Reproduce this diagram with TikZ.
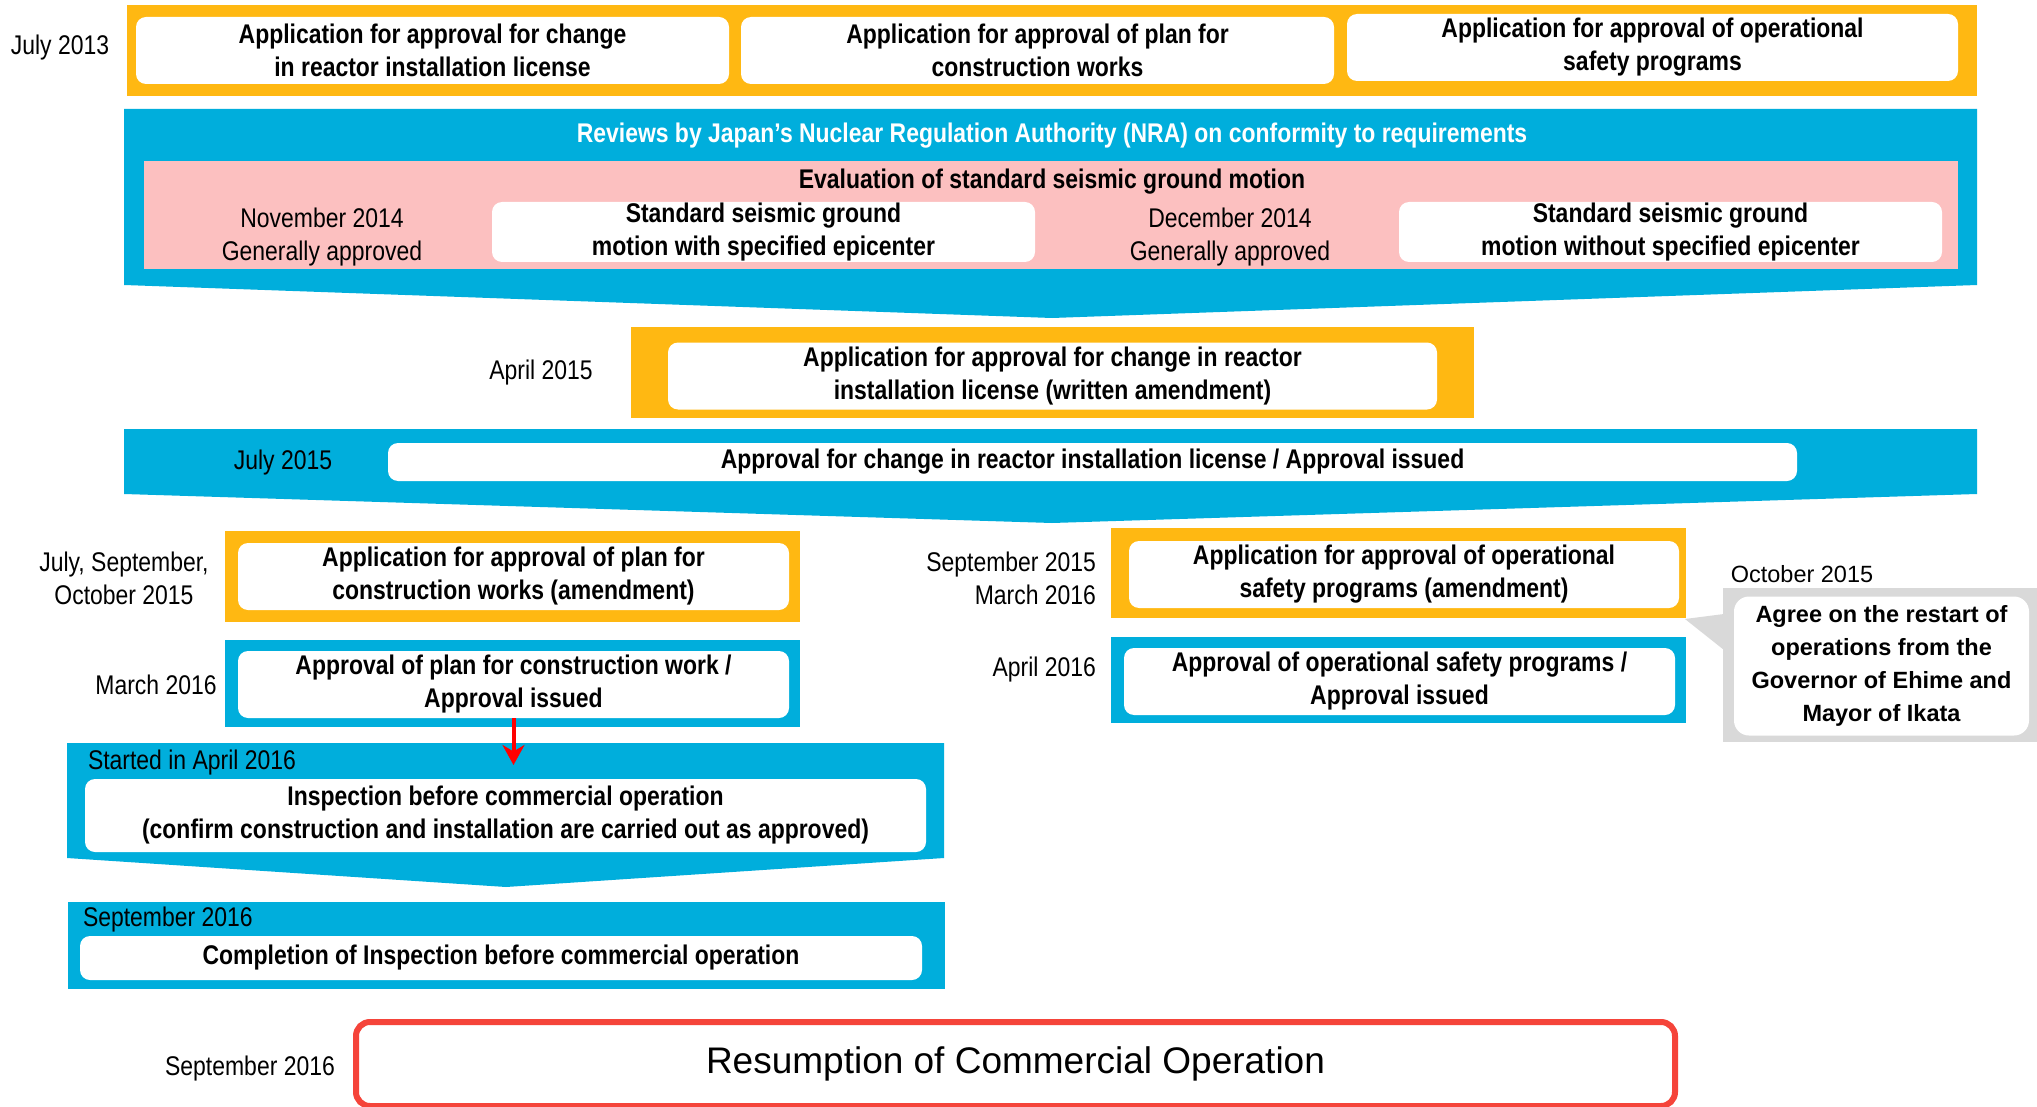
\documentclass[tikz,border=0pt]{standalone}
\usepackage{fontspec}
\setmainfont{Liberation Sans}
\newfontfamily\nf{Liberation Sans}[FakeStretch=0.85]
\usetikzlibrary{arrows.meta}
\definecolor{org}{RGB}{255,184,18}
\definecolor{blu}{RGB}{0,174,220}
\definecolor{pnk}{RGB}{252,192,192}
\definecolor{gry}{RGB}{217,217,217}
\definecolor{rdb}{RGB}{245,68,58}
\begin{document}
\begin{tikzpicture}[x=1pt,y=-1pt,
  every node/.style={inner sep=0pt,outer sep=0pt},
  wbox/.style={fill=white,rounded corners=10pt,align=center,
    font=\nf\bfseries\fontsize{27}{33}\selectfont},
  obox/.style={fill=org},
  bbox/.style={fill=blu},
  lbl/.style={align=center,font=\nf\fontsize{27}{33}\selectfont},
  redarrow/.style={draw=red,line width=4pt,-{Stealth[length=20pt,width=22pt]}}
]
\clip (0,0) rectangle (2037,1107);
\fill[white] (0,0) rectangle (2037,1107);

% ---- July 2013 applications
\node[obox,minimum width=1850,minimum height=91] (topband) at (1052,50.5) {};
\node[wbox,minimum width=593,minimum height=67] (t1) at (432.5,50.5) {Application for approval for change\\in reactor installation license};
\node[wbox,minimum width=593,minimum height=67] (t2) at (1037.5,50.5) {Application for approval of plan for\\construction works};
\node[wbox,minimum width=611,minimum height=67] (t3) at (1652.5,47.5) {Application for approval of operational\\safety programs};
\node[lbl] (l2013) at (60,48) {July 2013};

% ---- NRA reviews
\fill[blu] (124,109) -- (1977,109) -- (1977,285) -- (1052,318) -- (124,285) -- cycle;
\node[font=\nf\bfseries\fontsize{27}{33}\selectfont,text=white] (nra) at (1052,136) {Reviews by Japan’s Nuclear Regulation Authority (NRA) on conformity to requirements};
\node[fill=pnk,minimum width=1814,minimum height=108] (pink) at (1051,215) {};
\node[font=\nf\bfseries\fontsize{27}{33}\selectfont] (evt) at (1052,182) {Evaluation of standard seismic ground motion};
\node[lbl] (lnov) at (322,237) {November 2014\\Generally approved};
\node[wbox,minimum width=543,minimum height=60] (s1) at (763.5,232) {Standard seismic ground\\motion with specified epicenter};
\node[lbl] (ldec) at (1230,237) {December 2014\\Generally approved};
\node[wbox,minimum width=543,minimum height=60] (s2) at (1670.5,232) {Standard seismic ground\\motion without specified epicenter};

% ---- April 2015
\node[obox,minimum width=843,minimum height=91] (aband) at (1052.5,372.5) {};
\node[wbox,minimum width=769,minimum height=67] (amend) at (1052.5,376) {Application for approval for change in reactor\\installation license (written amendment)};
\node[lbl] (lapr) at (541,373) {April 2015};

% ---- July 2015
\fill[blu] (124,429) -- (1977,429) -- (1977,494) -- (1052,523) -- (124,494) -- cycle;
\node[wbox,minimum width=1409,minimum height=38] (appr) at (1092.5,462) {Approval for change in reactor installation license / Approval issued};
\node[lbl] (ljul) at (283,463) {July 2015};

% ---- left column
\node[obox,minimum width=575,minimum height=91] (lo) at (512.5,576.5) {};
\node[wbox,minimum width=551,minimum height=67] (pcw1) at (513.5,576.5) {Application for approval of plan for\\construction works (amendment)};
\node[lbl] (ljso) at (124,578) {July, September,\\October 2015};
\node[bbox,minimum width=575,minimum height=87] (lb) at (512.5,683.5) {};
\node[wbox,minimum width=551,minimum height=67] (pcw2) at (513.5,684.5) {Approval of plan for construction work /\\Approval issued};
\node[lbl] (lmar) at (156,685) {March 2016};

% ---- inspection
\fill[blu] (67,743) -- (944,743) -- (944,858) -- (506,887) -- (67,858) -- cycle;
\node[lbl,anchor=west] (lstart) at (88,763) {Started in April 2016};
\node[wbox,minimum width=841,minimum height=73] (insp) at (505.5,815.5) {Inspection before commercial operation\\(confirm construction and installation are carried out as approved)};
\coordinate (arrtip) at (514,765);
\draw[redarrow] (pcw2.south) -- (pcw2.south |- arrtip);

% ---- completion
\node[bbox,minimum width=877,minimum height=87] (cb) at (506.5,945.5) {};
\node[lbl,anchor=west] (lsep) at (83,920) {September 2016};
\node[wbox,minimum width=842,minimum height=44] (comp) at (501,958) {Completion of Inspection before commercial operation};

% ---- resumption
\node[draw=rdb,line width=6pt,rounded corners=14pt,minimum width=1319,minimum height=84,
  font=\fontsize{37}{40}\selectfont] (resum) at (1015.5,1064) {Resumption of Commercial Operation};
\node[lbl] (lsep2) at (250,1069) {September 2016};

% ---- right column
\node[obox,minimum width=575,minimum height=90] (ro) at (1398.5,573) {};
\node[wbox,minimum width=550,minimum height=67] (osp1) at (1404,574.5) {Application for approval of operational\\safety programs (amendment)};
\node[lbl,anchor=east,align=right] (lsm) at (1096,578) {September 2015\\March 2016};
\node[bbox,minimum width=575,minimum height=86] (rb) at (1398.5,680) {};
\node[wbox,minimum width=551,minimum height=67] (osp2) at (1399.5,681.5) {Approval of operational safety programs /\\Approval issued};
\node[lbl,anchor=east] (lapr16) at (1096,670) {April 2016};

% ---- callout
\node[fill=gry,minimum width=322,minimum height=154] (gbox) at (1884,665) {};
\fill[gry] (1685,619) -- (1724,614) -- (1724,650) -- cycle;
\node[fill=white,rounded corners=15pt,minimum width=295,minimum height=139,align=center,
  font=\bfseries\fontsize{23.5}{33}\selectfont] (agree) at (1881.5,666) {Agree on the restart of\\operations from the\\Governor of Ehime and\\Mayor of Ikata};
\node[font=\fontsize{23.5}{28}\selectfont] (loct) at (1802,574) {October 2015};
\end{tikzpicture}
\end{document}
